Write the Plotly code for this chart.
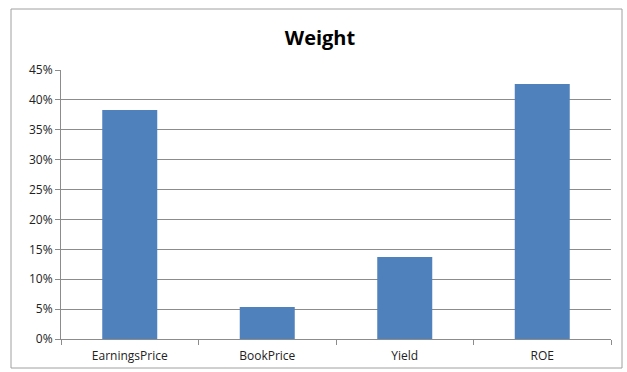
import plotly.graph_objects as go

categories = ["EarningsPrice", "BookPrice", "Yield", "ROE"]
weights = [0.383, 0.0535, 0.137, 0.4265]
title_text = "Weight"

L, R, T, B = 61, 16, 70, 33
W, H = 627, 372
pw, ph = W - L - R, H - T - B

def px_x(x):
    return (x - L) / pw

def px_y(y):
    return (H - B - y) / ph

fig = go.Figure(go.Bar(x=categories, y=weights, marker=dict(color="#4F81BD", line=dict(width=0))))

fig.update_layout(
    width=W, height=H,
    margin=dict(l=L, r=R, t=T, b=B),
    paper_bgcolor="white", plot_bgcolor="white",
    bargap=0.6,
    showlegend=False,
    font=dict(family="Open Sans, Liberation Sans, sans-serif", size=12, color="#222"),
    title=dict(text="<b>" + title_text + "</b>", x=320 / W, xref="container", xanchor="center",
               y=1 - 38 / H, yanchor="middle", font=dict(size=20, color="black")),
    shapes=[dict(type="rect", xref="paper", yref="paper",
                 x0=px_x(11), x1=px_x(622), y0=px_y(368), y1=px_y(9),
                 line=dict(color="#A0A0A0", width=1), fillcolor="rgba(0,0,0,0)", layer="below")],
)
fig.update_yaxes(range=[0, 0.45], dtick=0.05, tickformat=".0%", showgrid=True, gridcolor="#8C8C8C",
                 gridwidth=1, showline=True, linecolor="#8C8C8C", ticks="outside", ticklen=5,
                 tickcolor="#8C8C8C", zeroline=False, tickfont=dict(size=12), automargin=False)
fig.update_xaxes(showline=True, linecolor="#8C8C8C", ticks="outside", tickson="boundaries",
                 ticklen=5, tickcolor="#8C8C8C", tickfont=dict(size=12), showgrid=False,
                 ticklabelstandoff=6, automargin=False)

fig.write_html("out.html")
